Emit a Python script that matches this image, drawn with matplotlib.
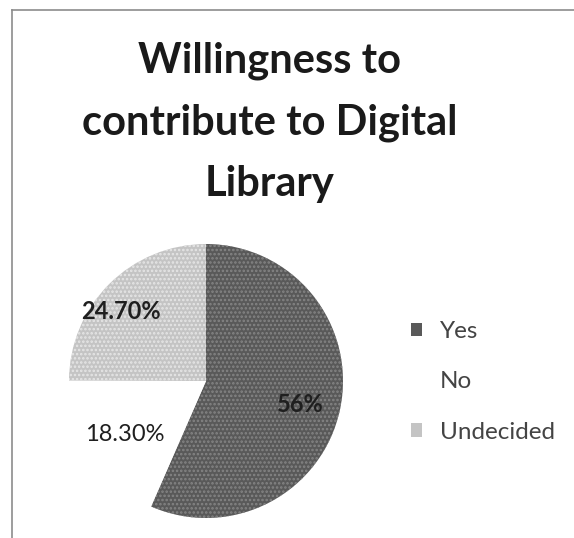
import matplotlib.pyplot as plt
from matplotlib.lines import Line2D
import numpy as np

categories = ["Yes", "No", "Undecided"]
values = [56, 18.3, 24.7]
pct_labels = ["56%", "18.30%", "24.70%"]
title = "Willingness to\ncontribute to Digital\nLibrary"

colors = ["#595959", "#ffffff", "#c4c4c4"]
hatch_colors = ["#858585", "#ffffff", "#e6e6e6"]
hatches = ["....", None, "...."]

plt.rcParams["font.family"] = ["Lato", "DejaVu Sans"]
plt.rcParams["hatch.linewidth"] = 1.2

fig = plt.figure(figsize=(5.74, 5.38), dpi=100)
fig.patch.set_facecolor("white")

# chart frame (only top and left edges are visible in the scan)
fig.add_artist(Line2D([12 / 574, 1.0], [1 - 10 / 538, 1 - 10 / 538], color="#8c8c8c", lw=1.2))
fig.add_artist(Line2D([12 / 574, 12 / 574], [0, 1 - 10 / 538], color="#8c8c8c", lw=1.2))

fig.text(0.47, 1 - 41 / 538, title, ha="center", va="top", fontsize=30,
         fontweight="bold", color="#1a1a1a", linespacing=1.76)

ax = fig.add_axes([69 / 574, 20 / 538, 274 / 574, 274 / 538])
wedges, _ = ax.pie(values, colors=colors, startangle=90, counterclock=False,
                   wedgeprops={"linewidth": 0})
for w, h, hc in zip(wedges, hatches, hatch_colors):
    if h:
        w.set_hatch(h)
        w.set_edgecolor(hc)
        w.set_linewidth(0)
ax.set_xlim(-1, 1)
ax.set_ylim(-1, 1)
ax.set_aspect("equal")

# data labels placed at a fraction of the radius along each slice's mid angle
label_r = [0.71, 0.71, 0.80]
label_shift = [-2, 0, 6]
label_weight = ["bold", "normal", "bold"]
for w, lab, r, s, fw in zip(wedges, pct_labels, label_r, label_shift, label_weight):
    ang = np.deg2rad((w.theta1 + w.theta2) / 2 + s)
    ax.text(r * np.cos(ang), r * np.sin(ang), lab, ha="center", va="center",
            fontsize=17, fontweight=fw, color="#1f1f1f")

leg = fig.legend(wedges, categories, loc="center left",
                 bbox_to_anchor=(389 / 574, 1 - 382 / 538), frameon=False,
                 fontsize=17.5, handlelength=0.45, handleheight=0.45,
                 handletextpad=0.75, labelspacing=1.2, labelcolor="#444444")
for h in leg.legend_handles:
    h.set_edgecolor("none")

fig.savefig("out.png", dpi=100)
